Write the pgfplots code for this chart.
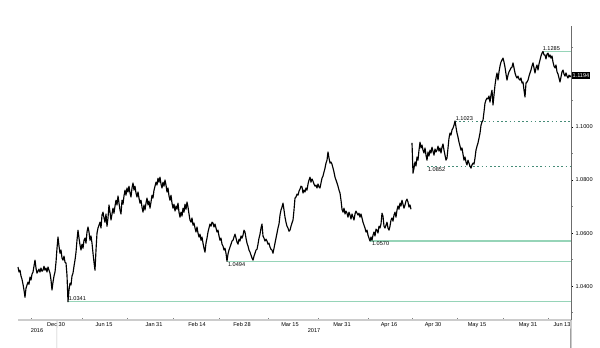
\documentclass[border=0pt]{standalone}
\usepackage{pgfplots}
\pgfplotsset{compat=1.18}
\usepackage{fontspec}
\setmainfont{Liberation Sans}
\definecolor{mint}{RGB}{150,212,184}
\definecolor{dashg}{RGB}{70,140,120}
\begin{document}
\begin{tikzpicture}[x=1pt,y=1pt]
\useasboundingbox (0,0) rectangle (600,348);
\begin{axis}[
 at={(18pt,28pt)}, anchor=south west,
 width=553pt, height=294pt, scale only axis,
 xmin=18, xmax=571, ymin=1.0272, ymax=1.1381,
 axis x line*=bottom, axis y line*=right,
 x axis line style={-, gray!40, line width=1.4pt},
 y axis line style={-, gray!85!black, line width=0.9pt},
 clip=false,
 xtick={56,104,154,197,242,290,342,389,433,477,528,562},
 xticklabels={Dec 30,Jun 15,Jan 31,Feb 14,Feb 28,Mar 15,Mar 31,Apr 16,Apr 30,May 15,May 31,Jun 13},
 major x tick style={draw=none},
 minor xtick={31,82,127,173,219,268,318,368,412,457,503,548},
 minor x tick style={gray, line width=0.5pt},
 xtick align=inside, ytick align=outside,
 ytick={1.04,1.06,1.08,1.10},
 minor ytick={1.03,1.05,1.07,1.09,1.11,1.12,1.13},
 major y tick style={black, line width=0.6pt},
 minor y tick style={gray, line width=0.5pt},
 major tick length=2pt, minor tick length=1.6pt,
 tick label style={font=\fontsize{5.6}{6}\selectfont},
 /pgf/number format/assume math mode=true,
 yticklabel style={/pgf/number format/fixed, /pgf/number format/fixed zerofill, /pgf/number format/precision=4, xshift=-1pt},
 xticklabel style={yshift=1.2pt},
 scaled y ticks=false,
]
% level lines
\addplot[mint, line width=1.1pt] coordinates {(543,1.1285) (571,1.1285)};
\addplot[mint, line width=1.1pt] coordinates {(370,1.0570) (571,1.0570)};
\addplot[mint, line width=1.1pt] coordinates {(227,1.0494) (571,1.0494)};
\addplot[mint, line width=1.1pt] coordinates {(68,1.0341) (571,1.0341)};
\addplot[dashg, line width=0.65pt, dash pattern=on 1.6pt off 2.6pt] coordinates {(455,1.1023) (571,1.1023)};
\addplot[dashg, line width=0.65pt, dash pattern=on 1.6pt off 2.6pt] coordinates {(427,1.0852) (571,1.0852)};
% price series
\addplot[black, line width=1.15pt, line join=round] table[row sep=\\] {
x y\\
18 1.0472\\ 19 1.0453\\ 20 1.0460\\ 21 1.0438\\ 22 1.0426\\ 23 1.0407\\ 24 1.0385\\ 25 1.0358\\ 26 1.0392\\ 27 1.0404\\
28 1.0415\\ 29 1.0407\\ 30 1.0434\\ 31 1.0423\\ 32 1.0445\\ 33 1.0453\\ 34 1.0475\\ 35 1.0498\\ 36 1.0468\\ 37 1.0449\\
38 1.0456\\ 39 1.0464\\ 40 1.0453\\ 41 1.0468\\ 42 1.0456\\ 43 1.0460\\ 44 1.0475\\ 45 1.0460\\ 46 1.0468\\ 47 1.0453\\
48 1.0472\\ 49 1.0460\\ 50 1.0449\\ 51 1.0423\\ 52 1.0385\\ 53 1.0415\\ 54 1.0438\\ 55 1.0453\\ 56 1.0490\\ 57 1.0543\\
58 1.0585\\ 59 1.0551\\ 60 1.0524\\ 61 1.0536\\ 62 1.0506\\ 63 1.0498\\ 64 1.0513\\ 65 1.0490\\ 66 1.0487\\ 67 1.0441\\
68 1.0341\\ 69 1.0385\\ 70 1.0411\\ 71 1.0404\\ 72 1.0438\\ 73 1.0449\\ 74 1.0475\\ 75 1.0498\\ 76 1.0528\\ 77 1.0573\\
78 1.0611\\ 79 1.0581\\ 80 1.0555\\ 81 1.0536\\ 82 1.0558\\ 83 1.0543\\ 84 1.0573\\ 85 1.0581\\ 86 1.0562\\ 87 1.0604\\
88 1.0623\\ 89 1.0604\\ 90 1.0573\\ 91 1.0589\\ 92 1.0562\\ 93 1.0524\\ 94 1.0490\\ 95 1.0460\\ 96 1.0536\\ 97 1.0600\\
98 1.0619\\ 99 1.0630\\ 100 1.0641\\ 101 1.0619\\ 102 1.0668\\ 103 1.0679\\ 104 1.0657\\ 105 1.0641\\ 106 1.0672\\ 107 1.0626\\
108 1.0657\\ 109 1.0706\\ 110 1.0679\\ 111 1.0649\\ 112 1.0672\\ 113 1.0694\\ 114 1.0675\\ 115 1.0702\\ 116 1.0724\\ 117 1.0706\\
118 1.0740\\ 119 1.0713\\ 120 1.0687\\ 121 1.0672\\ 122 1.0724\\ 123 1.0709\\ 124 1.0740\\ 125 1.0762\\ 126 1.0743\\ 127 1.0770\\
128 1.0755\\ 129 1.0777\\ 130 1.0751\\ 131 1.0736\\ 132 1.0770\\ 133 1.0789\\ 134 1.0762\\ 135 1.0777\\ 136 1.0751\\ 137 1.0736\\
138 1.0755\\ 139 1.0732\\ 140 1.0713\\ 141 1.0724\\ 142 1.0698\\ 143 1.0679\\ 144 1.0706\\ 145 1.0687\\ 146 1.0713\\ 147 1.0732\\
148 1.0706\\ 149 1.0721\\ 150 1.0694\\ 151 1.0717\\ 152 1.0743\\ 153 1.0732\\ 154 1.0762\\ 155 1.0777\\ 156 1.0792\\ 157 1.0781\\
158 1.0807\\ 159 1.0792\\ 160 1.0811\\ 161 1.0785\\ 162 1.0770\\ 163 1.0792\\ 164 1.0777\\ 165 1.0800\\ 166 1.0781\\ 167 1.0755\\
168 1.0770\\ 169 1.0740\\ 170 1.0724\\ 171 1.0743\\ 172 1.0713\\ 173 1.0694\\ 174 1.0709\\ 175 1.0683\\ 176 1.0702\\ 177 1.0690\\
178 1.0713\\ 179 1.0679\\ 180 1.0660\\ 181 1.0679\\ 182 1.0664\\ 183 1.0694\\ 184 1.0679\\ 185 1.0709\\ 186 1.0690\\ 187 1.0717\\
188 1.0698\\ 189 1.0672\\ 190 1.0649\\ 191 1.0641\\ 192 1.0657\\ 193 1.0630\\ 194 1.0638\\ 195 1.0619\\ 196 1.0604\\ 197 1.0623\\
198 1.0600\\ 199 1.0585\\ 200 1.0596\\ 201 1.0573\\ 202 1.0585\\ 203 1.0562\\ 204 1.0543\\ 205 1.0528\\ 206 1.0562\\ 207 1.0581\\
208 1.0604\\ 209 1.0619\\ 210 1.0634\\ 211 1.0626\\ 212 1.0641\\ 213 1.0638\\ 214 1.0623\\ 215 1.0634\\ 216 1.0619\\ 217 1.0604\\
218 1.0611\\ 219 1.0589\\ 220 1.0573\\ 221 1.0581\\ 222 1.0558\\ 223 1.0551\\ 224 1.0536\\ 225 1.0543\\ 226 1.0524\\ 227 1.0494\\
228 1.0521\\ 229 1.0536\\ 230 1.0547\\ 231 1.0558\\ 232 1.0570\\ 233 1.0573\\ 234 1.0585\\ 235 1.0596\\ 236 1.0581\\ 237 1.0566\\
238 1.0558\\ 239 1.0577\\ 240 1.0570\\ 241 1.0589\\ 242 1.0581\\ 243 1.0592\\ 244 1.0611\\ 245 1.0604\\ 246 1.0581\\ 247 1.0562\\
248 1.0551\\ 249 1.0536\\ 250 1.0528\\ 251 1.0517\\ 252 1.0506\\ 253 1.0498\\ 254 1.0513\\ 255 1.0524\\ 256 1.0536\\ 257 1.0539\\
258 1.0558\\ 259 1.0581\\ 260 1.0596\\ 261 1.0619\\ 262 1.0634\\ 263 1.0589\\ 264 1.0581\\ 265 1.0570\\ 266 1.0577\\ 267 1.0570\\
268 1.0558\\ 269 1.0562\\ 270 1.0547\\ 271 1.0539\\ 272 1.0536\\ 273 1.0524\\ 274 1.0543\\ 275 1.0562\\ 276 1.0581\\ 277 1.0600\\
278 1.0619\\ 279 1.0634\\ 280 1.0668\\ 281 1.0687\\ 282 1.0698\\ 283 1.0713\\ 284 1.0687\\ 285 1.0660\\ 286 1.0641\\ 287 1.0626\\
288 1.0619\\ 289 1.0607\\ 290 1.0611\\ 291 1.0626\\ 292 1.0638\\ 293 1.0649\\ 294 1.0687\\ 295 1.0732\\ 296 1.0736\\ 297 1.0747\\
298 1.0743\\ 299 1.0758\\ 300 1.0766\\ 301 1.0777\\ 302 1.0774\\ 303 1.0751\\ 304 1.0762\\ 305 1.0755\\ 306 1.0770\\ 307 1.0762\\
308 1.0785\\ 309 1.0800\\ 310 1.0811\\ 311 1.0792\\ 312 1.0804\\ 313 1.0796\\ 314 1.0785\\ 315 1.0777\\ 316 1.0781\\ 317 1.0770\\
318 1.0785\\ 319 1.0774\\ 320 1.0770\\ 321 1.0789\\ 322 1.0807\\ 323 1.0815\\ 324 1.0830\\ 325 1.0845\\ 326 1.0864\\ 327 1.0875\\
328 1.0906\\ 329 1.0883\\ 330 1.0864\\ 331 1.0868\\ 332 1.0860\\ 333 1.0845\\ 334 1.0830\\ 335 1.0811\\ 336 1.0800\\ 337 1.0789\\
338 1.0777\\ 339 1.0762\\ 340 1.0751\\ 341 1.0724\\ 342 1.0690\\ 343 1.0679\\ 344 1.0694\\ 345 1.0672\\ 346 1.0683\\ 347 1.0675\\
348 1.0660\\ 349 1.0679\\ 350 1.0668\\ 351 1.0653\\ 352 1.0672\\ 353 1.0660\\ 354 1.0649\\ 355 1.0672\\ 356 1.0683\\ 357 1.0675\\
358 1.0668\\ 359 1.0675\\ 360 1.0660\\ 361 1.0672\\ 362 1.0657\\ 363 1.0641\\ 364 1.0630\\ 365 1.0619\\ 366 1.0604\\ 367 1.0611\\
368 1.0592\\ 369 1.0581\\ 370 1.0570\\ 371 1.0585\\ 372 1.0573\\ 373 1.0592\\ 374 1.0604\\ 375 1.0589\\ 376 1.0615\\ 377 1.0611\\
378 1.0600\\ 379 1.0626\\ 380 1.0619\\ 381 1.0634\\ 382 1.0675\\ 383 1.0664\\ 384 1.0626\\ 385 1.0619\\ 386 1.0630\\ 387 1.0641\\
388 1.0619\\ 389 1.0611\\ 390 1.0626\\ 391 1.0649\\ 392 1.0657\\ 393 1.0645\\ 394 1.0668\\ 395 1.0679\\ 396 1.0660\\ 397 1.0687\\
398 1.0702\\ 399 1.0690\\ 400 1.0713\\ 401 1.0702\\ 402 1.0724\\ 403 1.0709\\ 404 1.0694\\ 405 1.0706\\ 406 1.0721\\ 407 1.0728\\
408 1.0717\\ 409 1.0698\\ 410 1.0706\\ 411 1.0690\\
};
\addplot[black, line width=1.15pt, line join=round] table[row sep=\\] {
x y\\
412 1.0940\\ 413 1.0826\\ 414 1.0845\\ 415 1.0868\\ 416 1.0853\\ 417 1.0887\\ 418 1.0875\\ 419 1.0913\\ 420 1.0943\\ 421 1.0921\\
422 1.0932\\ 423 1.0913\\ 424 1.0902\\ 425 1.0921\\ 426 1.0894\\ 427 1.0875\\ 428 1.0906\\ 429 1.0891\\ 430 1.0913\\ 431 1.0902\\
432 1.0924\\ 433 1.0909\\ 434 1.0894\\ 435 1.0917\\ 436 1.0906\\ 437 1.0913\\ 438 1.0928\\ 439 1.0909\\ 440 1.0921\\ 441 1.0902\\
442 1.0924\\ 443 1.0936\\ 444 1.0913\\ 445 1.0894\\ 446 1.0875\\ 447 1.0883\\ 448 1.0921\\ 449 1.0958\\ 450 1.0977\\ 451 1.0970\\
452 1.0989\\ 453 1.0996\\ 454 1.1007\\ 455 1.1023\\ 456 1.1000\\ 457 1.0977\\ 458 1.0962\\ 459 1.0943\\ 460 1.0928\\ 461 1.0913\\
462 1.0921\\ 463 1.0898\\ 464 1.0875\\ 465 1.0887\\ 466 1.0868\\ 467 1.0857\\ 468 1.0875\\ 469 1.0864\\ 470 1.0852\\ 471 1.0845\\
472 1.0857\\ 473 1.0864\\ 474 1.0860\\ 475 1.0883\\ 476 1.0913\\ 477 1.0928\\ 478 1.0940\\ 479 1.0958\\ 480 1.0977\\ 481 1.1007\\
482 1.1019\\ 483 1.1026\\ 484 1.1057\\ 485 1.1090\\ 486 1.1102\\ 487 1.1109\\ 488 1.1106\\ 489 1.1117\\ 490 1.1094\\ 491 1.1121\\
492 1.1139\\ 493 1.1083\\ 494 1.1121\\ 495 1.1158\\ 496 1.1185\\ 497 1.1204\\ 498 1.1177\\ 499 1.1208\\ 500 1.1230\\ 501 1.1245\\
502 1.1253\\ 503 1.1260\\ 504 1.1245\\ 505 1.1226\\ 506 1.1200\\ 507 1.1177\\ 508 1.1196\\ 509 1.1208\\ 510 1.1215\\ 511 1.1223\\
512 1.1226\\ 513 1.1242\\ 514 1.1223\\ 515 1.1204\\ 516 1.1192\\ 517 1.1185\\ 518 1.1192\\ 519 1.1181\\ 520 1.1177\\ 521 1.1185\\
522 1.1166\\ 523 1.1170\\ 524 1.1139\\ 525 1.1113\\ 526 1.1166\\ 527 1.1170\\ 528 1.1177\\ 529 1.1192\\ 530 1.1204\\ 531 1.1215\\
532 1.1230\\ 533 1.1242\\ 534 1.1223\\ 535 1.1204\\ 536 1.1223\\ 537 1.1234\\ 538 1.1215\\ 539 1.1238\\ 540 1.1253\\ 541 1.1268\\
542 1.1279\\ 543 1.1285\\ 544 1.1272\\ 545 1.1272\\ 546 1.1257\\ 547 1.1275\\ 548 1.1279\\ 549 1.1264\\ 550 1.1272\\ 551 1.1260\\
552 1.1268\\ 553 1.1245\\ 554 1.1230\\ 555 1.1223\\ 556 1.1234\\ 557 1.1208\\ 558 1.1200\\ 559 1.1185\\ 560 1.1170\\ 561 1.1189\\
562 1.1208\\ 563 1.1215\\ 564 1.1200\\ 565 1.1192\\ 566 1.1204\\ 567 1.1192\\ 568 1.1185\\ 569 1.1196\\ 570 1.1189\\ 571 1.1194\\
};
% level labels
\node[anchor=south west, inner sep=0.6pt, font=\fontsize{5.6}{6}\selectfont] at (axis cs:542,1.1285) {1.1285};
\node[anchor=south west, inner sep=0.6pt, font=\fontsize{5.6}{6}\selectfont] at (axis cs:455,1.1023) {1.1023};
\node[anchor=north west, inner sep=0.8pt, font=\fontsize{5.6}{6}\selectfont] at (axis cs:427,1.0852) {1.0852};
\node[anchor=north west, inner sep=0.8pt, font=\fontsize{5.6}{6}\selectfont] at (axis cs:371,1.0570) {1.0570};
\node[anchor=north west, inner sep=0.8pt, font=\fontsize{5.6}{6}\selectfont] at (axis cs:227,1.0494) {1.0494};
\node[anchor=south west, inner sep=0.6pt, font=\fontsize{5.6}{6}\selectfont] at (axis cs:68,1.0341) {1.0341};
% current price
\node[anchor=west, fill=black, text=white, inner sep=0.9pt, minimum height=6.5pt, font=\fontsize{5.6}{6}\selectfont] at (axis cs:571.5,1.1194) {1.1194};
% year labels and separators
\draw[gray!50, line width=0.6pt] (axis cs:57,1.0272) -- ++(0,-14pt);
\draw[gray!85!black, line width=0.9pt] (axis cs:571,1.0272) -- ++(0,-15pt);
\node[font=\fontsize{5.6}{6}\selectfont] at (axis cs:37,1.0272) [yshift=-11pt] {2016};
\node[font=\fontsize{5.6}{6}\selectfont] at (axis cs:314,1.0272) [yshift=-11pt] {2017};
\end{axis}
\end{tikzpicture}
\end{document}
